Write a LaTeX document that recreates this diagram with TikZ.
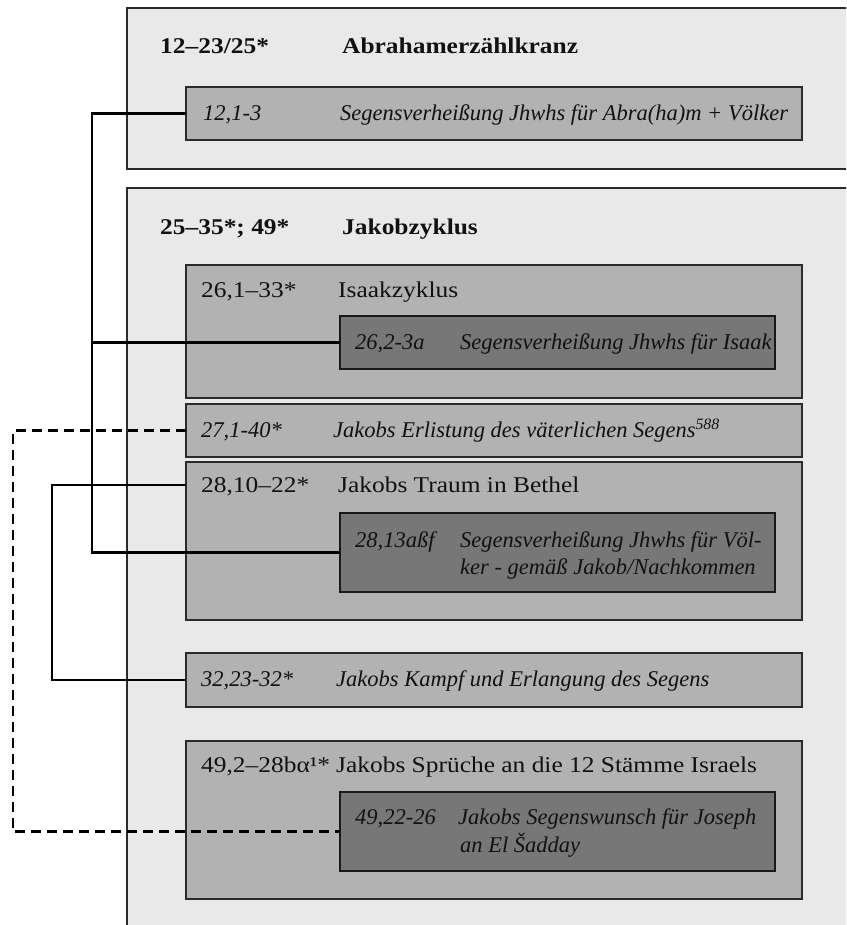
\documentclass[tikz,border=0pt]{standalone}
\usepackage{fontspec}
\setmainfont{Liberation Serif}
\newfontfamily\romfont{Liberation Serif}[FakeStretch=1.13]
\usetikzlibrary{calc}
\definecolor{outerfill}{HTML}{E9E9E9}
\definecolor{midfill}{HTML}{B2B2B2}
\definecolor{innerfill}{HTML}{777777}
\definecolor{edge}{HTML}{2A2A2A}
\definecolor{ink}{HTML}{111111}

\begin{document}
\begin{tikzpicture}[x=1pt,y=-1pt,
  box/.style={draw=edge, line width=1.5pt, anchor=north west, inner sep=0pt, outer sep=0pt},
  outerbox/.style={box, fill=outerfill, line width=2pt},
  midbox/.style={box, fill=midfill, minimum width=616pt},
  innerbox/.style={box, fill=innerfill, draw=black!90, minimum width=435pt},
  txt/.style={anchor=base west, inner sep=0pt, text=ink, font=\romfont\fontsize{22.5}{27}\selectfont},
  head/.style={txt, font=\romfont\bfseries\fontsize{22.5}{27}\selectfont},
  ital/.style={txt, font=\itshape\fontsize{22.5}{28}\selectfont},
  link/.style={line width=2.2pt, black},
  dlink/.style={link, dash pattern=on 10pt off 6pt},
]
\useasboundingbox (0,0) rectangle (846,925);
\clip (0,0) rectangle (846,925);

% groups (open to the right and, for Jakob, at the bottom)
\node[outerbox, minimum width=740pt, minimum height=161pt] (abr) at (127,8) {};
\node[outerbox, minimum width=740pt, minimum height=760pt] (jak) at (127,188) {};

% sections
\node[midbox, minimum height=53pt] (a1) at (186,87) {};
\node[midbox, minimum height=133pt] (isk) at (186,265) {};
\node[innerbox, minimum height=53pt] (isk2) at (340,316) {};
\node[midbox, minimum height=53pt] (b27) at (186,404) {};
\node[midbox, minimum height=158pt] (b28) at (186,462) {};
\node[innerbox, minimum height=79pt] (i28) at (340,513) {};
\node[midbox, minimum height=54pt] (b32) at (186,653) {};
\node[midbox, minimum height=158pt] (b49) at (186,741) {};
\node[innerbox, minimum height=79pt] (i49) at (340,792) {};

% connectors
\coordinate (spineA) at (92,0);
\coordinate (spineB) at (52,0);
\coordinate (spineC) at (13,0);
\coordinate (b28tap) at ($(b28.north west)+(0,23)$);
\draw[link] (a1.west) -- (a1.west -| spineA) |- (i28.west);
\draw[link] (isk2.west) -- (isk2.west -| spineA);
\draw[link] (b28tap) -- (b28tap -| spineB) |- (b32.west);
\draw[dlink] (b27.west) -- (b27.west -| spineC) |- (i49.west);

% labels
\node[head] (tA1) at (160,54) {12–23/25*};
\node[head] (tA2) at (342,54) {Abrahamerzählkranz};
\node[ital] (t11) at (203,121) {12,1-3};
\node[ital] (t12) at (340,121) {Segensverheißung Jhwhs für Abra(ha)m + Völker};

\node[head] (tJ1) at (160,234) {25–35*; 49*};
\node[head] (tJ2) at (342,234) {Jakobzyklus};

\node[txt] (ti1) at (201,297) {26,1–33*};
\node[txt] (ti2) at (338,297) {Isaakzyklus};
\node[ital] (ti3) at (355,349) {26,2-3a};
\node[ital] (ti4) at (460,349) {Segensverheißung Jhwhs für Isaak};

\node[ital] (t271) at (201,437) {27,1-40*};
\node[ital] (t272) at (333,437) {Jakobs Erlistung des väterlichen Segens\textsuperscript{588}};

\node[txt] (t281) at (201,492) {28,10–22*};
\node[txt] (t282) at (338,492) {Jakobs Traum in Bethel};
\node[ital] (t283) at (355,547) {28,13aßf};
\node[ital] (t284) at (460,547) {Segensverheißung Jhwhs für Völ-};
\node[ital] (t285) at (460,574) {ker - gemäß Jakob/Nachkommen};

\node[ital] (t321) at (201,686) {32,23-32*};
\node[ital] (t322) at (336,686) {Jakobs Kampf und Erlangung des Segens};

\node[txt] (t491) at (201,772) {49,2–28bα¹*};
\node[txt] (t492) at (336,772) {Jakobs Sprüche an die 12 Stämme Israels};
\node[ital] (t493) at (355,824) {49,22-26};
\node[ital] (t494) at (458,824) {Jakobs Segenswunsch für Joseph};
\node[ital] (t495) at (460,852) {an El Šadday};
\end{tikzpicture}
\end{document}
